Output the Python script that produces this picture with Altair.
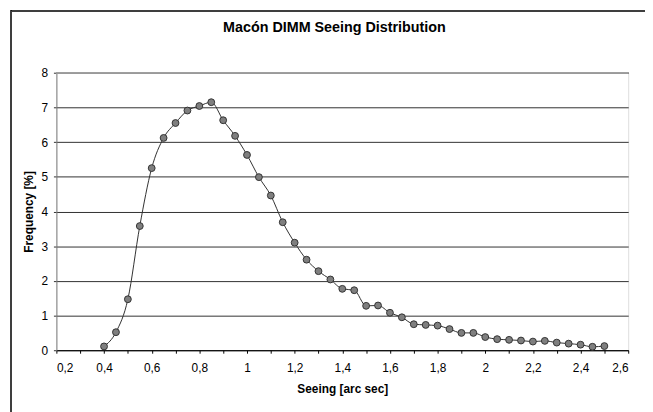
import altair as alt
import pandas as pd

seeing = [0.40, 0.45, 0.50, 0.55, 0.60, 0.65, 0.70, 0.75, 0.80, 0.85,
          0.90, 0.95, 1.00, 1.05, 1.10, 1.15, 1.20, 1.25, 1.30, 1.35,
          1.40, 1.45, 1.50, 1.55, 1.60, 1.65, 1.70, 1.75, 1.80, 1.85,
          1.90, 1.95, 2.00, 2.05, 2.10, 2.15, 2.20, 2.25, 2.30, 2.35,
          2.40, 2.45, 2.50]
frequency = [0.11, 0.52, 1.47, 3.58, 5.25, 6.12, 6.55, 6.91, 7.04, 7.15,
             6.63, 6.18, 5.63, 4.99, 4.46, 3.69, 3.10, 2.61, 2.28, 2.04,
             1.77, 1.73, 1.28, 1.29, 1.08, 0.95, 0.75, 0.73, 0.71, 0.61,
             0.50, 0.50, 0.38, 0.32, 0.30, 0.28, 0.25, 0.27, 0.22, 0.19,
             0.16, 0.10, 0.12]
x_ticks = [round(0.2 + 0.1 * i, 1) for i in range(25)]
y_ticks = [0.0, 1.0, 2.0, 3.0, 4.0, 5.0, 6.0, 7.0, 8.0]

df = pd.DataFrame({"seeing": seeing, "freq": frequency})

FONT = "Liberation Sans"

x_enc = alt.X(
    "seeing:Q",
    scale=alt.Scale(domain=[0.2, 2.6], nice=False, zero=False),
    axis=alt.Axis(
        title="Seeing [arc sec]",
        values=x_ticks,
        labelExpr="(round(datum.value*10) % 2 == 0) ? replace(format(datum.value, '.1~f'), '.', ',') : ''",
        grid=False,
        domainColor="#000000",
        tickColor="#000000",
        tickSize=3,
        labelPadding=10,
        labelFontSize=12,
        labelColor="#000000",
        labelFont=FONT,
        labelOverlap=False,
        titleFont=FONT,
        titleFontSize=12,
        titleFontWeight="bold",
        titleColor="#000000",
        titlePadding=10,
    ),
)
y_enc = alt.Y(
    "freq:Q",
    scale=alt.Scale(domain=[0, 8], nice=False),
    axis=alt.Axis(
        title="Frequency [%]",
        values=y_ticks,
        grid=True,
        gridColor="#303030",
        gridWidth=1,
        domainColor="#808080",
        tickColor="#303030",
        tickSize=3,
        labelPadding=6,
        labelFontSize=12,
        labelColor="#000000",
        labelFont=FONT,
        labelOverlap=False,
        labelBound=False,
        titleFont=FONT,
        titleFontSize=12,
        titleFontWeight="bold",
        titleColor="#000000",
        titlePadding=6,
    ),
)

base = alt.Chart(df).encode(x=x_enc, y=y_enc)

line = base.mark_line(color="#303030", strokeWidth=1, interpolate="monotone")

points = base.mark_point(
    shape="circle", filled=True, fill="#7f7f7f", stroke="#333333",
    strokeWidth=1, size=48, opacity=1
)

frame_top = alt.Chart(df).mark_rule(color="#404040", strokeWidth=1).encode(
    x=alt.value(-46), x2=alt.value(600), y=alt.value(-62.5)
)
frame_left = alt.Chart(df).mark_rule(color="#404040", strokeWidth=1).encode(
    x=alt.value(-46), y=alt.value(-62.5), y2=alt.value(345)
)
top_edge = alt.Chart(df).mark_rule(color="#a0a0a0", strokeWidth=1).encode(
    x=alt.value(0), x2=alt.value(579), y=alt.value(0)
)

chart = alt.layer(line, points, frame_top, frame_left, top_edge).properties(
    width=579,
    height=281,
    title=alt.TitleParams(
        "Macón DIMM Seeing Distribution",
        font=FONT, fontSize=14.5, fontWeight="bold", color="#000000",
        anchor="middle", dx=-8, offset=0, dy=25,
    ),
    padding={"left": 49, "top": 63, "right": 17, "bottom": 60},
    autosize=alt.AutoSizeParams(type="none"),
).configure_view(
    stroke="#909090", strokeWidth=1
).configure(background="#ffffff")

chart.save("out.html", embed_options={"renderer": "svg", "actions": False})
